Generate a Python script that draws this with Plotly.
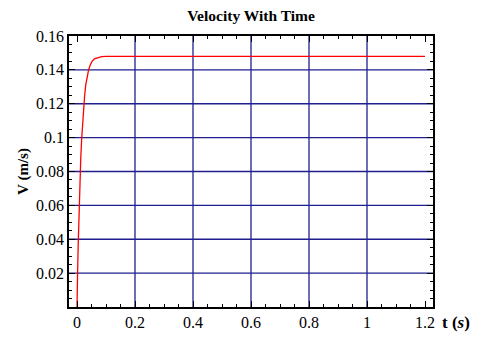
import plotly.graph_objects as go

# data
t_vals = [0.0, 0.0, 0.002, 0.004, 0.006, 0.008, 0.010, 0.013, 0.016, 0.019, 0.022,
          0.026, 0.030, 0.035, 0.040, 0.046, 0.052, 0.060, 0.070, 0.085, 0.10,
          0.2, 0.4, 0.6, 0.8, 1.0, 1.2]
v_vals = [-0.001, 0.0, 0.020, 0.036, 0.050, 0.062, 0.074, 0.088, 0.099, 0.108, 0.116,
          0.124, 0.131, 0.137, 0.140, 0.143, 0.145, 0.1465, 0.1472, 0.1478, 0.148,
          0.148, 0.148, 0.148, 0.148, 0.148, 0.148]

x_ticks = [0, 0.2, 0.4, 0.6, 0.8, 1.0, 1.2]
x_labels = ["0", "0.2", "0.4", "0.6", "0.8", "1", "1.2"]
y_ticks = [0.02, 0.04, 0.06, 0.08, 0.10, 0.12, 0.14, 0.16]
y_labels = ["0.02", "0.04", "0.06", "0.08", "0.1", "0.12", "0.14", "0.16"]
x_grid = [0.2, 0.4, 0.6, 0.8, 1.0]
y_grid = [0.02, 0.04, 0.06, 0.08, 0.10, 0.12, 0.14]

GRID = "#1f1f8f"
FONT = "Liberation Serif"

fig = go.Figure()
fig.add_trace(go.Scatter(x=t_vals, y=v_vals, mode="lines",
                         line=dict(color="#ff0000", width=1.3),
                         showlegend=False))

shapes = []
for gx in x_grid:
    shapes.append(dict(type="line", xref="x", yref="paper", x0=gx, x1=gx, y0=0, y1=1,
                       line=dict(color=GRID, width=1.3), layer="below"))
for gy in y_grid:
    shapes.append(dict(type="line", xref="paper", yref="y", x0=0, x1=1, y0=gy, y1=gy,
                       line=dict(color=GRID, width=1.3), layer="below"))

fig.update_layout(
    width=481, height=343,
    margin=dict(l=69, r=48, t=36, b=30),
    paper_bgcolor="white", plot_bgcolor="white",
    font=dict(family=FONT, size=15, color="black"),
    title=dict(text="<b>Velocity With Time</b>", x=0.522, xanchor="center",
               y=0.955, yanchor="middle", font=dict(family=FONT, size=15.5)),
    shapes=shapes,
    xaxis=dict(range=[-0.0276, 1.2276], tickvals=x_ticks, ticktext=x_labels,
               showgrid=False, zeroline=False, showline=True, linecolor="black",
               linewidth=1.5, mirror="allticks", ticks="inside", ticklen=6,
               tickcolor="black", tickwidth=1,
               tickfont=dict(family=FONT, size=16),
               minor=dict(ticks="inside", ticklen=3, dtick=0.05, tick0=0,
                          tickcolor="black", showgrid=False)),
    yaxis=dict(range=[0, 0.16], tickvals=y_ticks, ticktext=y_labels,
               showgrid=False, zeroline=False, showline=True, linecolor="black",
               linewidth=1.5, mirror="allticks", ticks="inside", ticklen=6,
               tickcolor="black", tickwidth=1,
               tickfont=dict(family=FONT, size=16),
               title=dict(text="<b>V (m/s)</b>", font=dict(family=FONT, size=15),
                          standoff=4),
               minor=dict(ticks="inside", ticklen=3, dtick=0.005, tick0=0,
                          tickcolor="black", showgrid=False)),
    annotations=[dict(text="<b>t (<i>s</i>)</b>", xref="paper", yref="paper",
                      x=1.0, y=0, xanchor="left", yanchor="top", xshift=7,
                      yshift=-4, showarrow=False,
                      font=dict(family=FONT, size=17))],
)

fig.write_html("out.html")
